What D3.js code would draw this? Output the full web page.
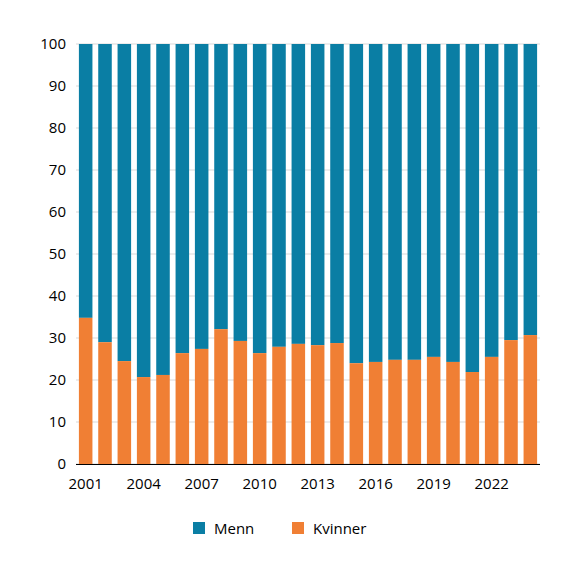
<!DOCTYPE html><html><head><meta charset="utf-8"><script src="https://cdn.jsdelivr.net/npm/d3@7"></script>
<style>body{margin:0;background:#fff}text{font-family:"Open Sans",sans-serif}</style></head><body><svg id="c" width="575" height="568"></svg><script>
const years=d3.range(2001,2025).map(String);
const kvinner=[34.8,29.0,24.5,20.7,21.2,26.4,27.4,32.1,29.3,26.4,27.9,28.6,28.3,28.8,24.0,24.3,24.8,24.8,25.5,24.3,21.9,25.5,29.5,30.7];
const yTicks=[0,10,20,30,40,50,60,70,80,90,100];
const xTickLabels=["2001","2004","2007","2010","2013","2016","2019","2022"];
const svg=d3.select("#c");
const x=d3.scaleBand().domain(years).range([76,540]).paddingInner(0.3).paddingOuter(0.15);
const y=d3.scaleLinear().domain([0,100]).range([464,44]);
svg.append("g").selectAll("line").data(yTicks).join("line").attr("x1",76).attr("x2",540).attr("y1",d=>y(d)).attr("y2",d=>y(d)).attr("stroke","#d9d9d9");
svg.append("g").selectAll("rect").data(years).join("rect").attr("x",d=>x(d)).attr("width",x.bandwidth()).attr("y",y(100)).attr("height",(d,i)=>y(kvinner[i])-y(100)).attr("fill","#0a7ea4");
svg.append("g").selectAll("rect").data(years).join("rect").attr("x",d=>x(d)).attr("width",x.bandwidth()).attr("y",(d,i)=>y(kvinner[i])).attr("height",(d,i)=>y(0)-y(kvinner[i])).attr("fill","#f07f34");
svg.append("g").selectAll("text").data(yTicks).join("text").attr("x",66).attr("y",d=>y(d)+5).attr("text-anchor","end").attr("font-size",15).text(d=>d);
svg.append("line").attr("x1",76).attr("x2",540).attr("y1",464.5).attr("y2",464.5).attr("stroke","#000");
svg.append("g").selectAll("text").data(xTickLabels).join("text").attr("x",d=>x(d)+x.bandwidth()/2).attr("y",489).attr("text-anchor","middle").attr("font-size",15).text(d=>d);
const leg=[["Menn","#0a7ea4",193],["Kvinner","#f07f34",292]];
leg.forEach(([t,c,lx])=>{svg.append("rect").attr("x",lx).attr("y",522).attr("width",12).attr("height",12).attr("fill",c);svg.append("text").attr("x",lx+21).attr("y",534).attr("font-size",15).text(t);});
</script></body></html>
